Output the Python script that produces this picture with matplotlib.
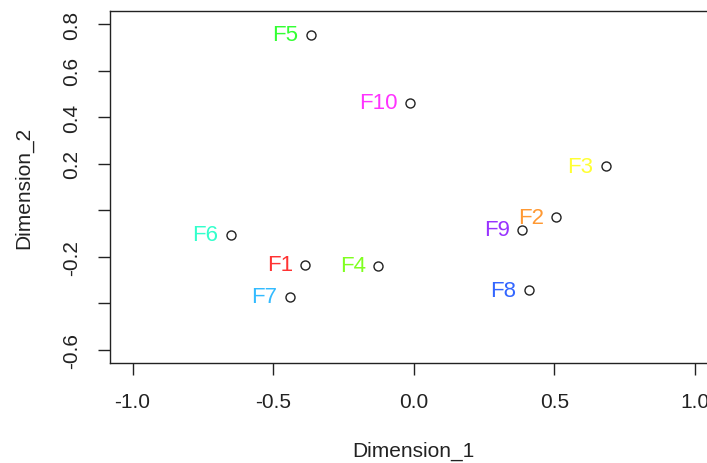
import matplotlib
matplotlib.use("Agg")
import matplotlib.pyplot as plt

plt.rcParams['font.family'] = ['Liberation Sans', 'DejaVu Sans']
plt.rcParams['axes.unicode_minus'] = False

# MDS coordinates
names = ['F1', 'F2', 'F3', 'F4', 'F5', 'F6', 'F7', 'F8', 'F9', 'F10']
dim1 = [-0.385, 0.508, 0.683, -0.126, -0.365, -0.651, -0.440, 0.409, 0.387, -0.013]
dim2 = [-0.233, -0.029, 0.189, -0.239, 0.755, -0.105, -0.371, -0.344, -0.083, 0.461]
cols = ['#FF3333', '#FF9933', '#FFFF33', '#80FF20', '#33FF33',
        '#33FFCC', '#33BBFF', '#3366FF', '#9933FF', '#FF33FF']

xticks = [-1.0, -0.5, 0.0, 0.5, 1.0]
yticks = [0.8, 0.6, 0.4, 0.2, 0.0, -0.2, -0.4, -0.6]
ylabs = ['0.8', '0.6', '0.4', '0.2', '', '-0.2', '', '-0.6']

fig = plt.figure(figsize=(7.07, 4.64), dpi=100)
ax = fig.add_axes([0.1556, 0.2155, 0.859, 0.7586])

ax.plot(dim1, dim2, 'o', mfc='none', mec='#222222', ms=6.5, mew=1.0)
for n, x, y, c in zip(names, dim1, dim2, cols):
    ax.annotate(n, (x, y), xytext=(-9, 0), textcoords='offset points',
                ha='right', va='center', color=c, fontsize=16)

ax.set_xlim(-1.08, 1.08)
ax.set_ylim(-0.656, 0.856)
ax.set_xticks(xticks)
ax.set_xticklabels(['%.1f' % t for t in xticks])
ax.set_yticks(yticks)
ax.set_yticklabels(ylabs, rotation=90, va='center')
ax.tick_params(length=8.6, width=1, color='#222222', pad=12,
               labelsize=15, labelcolor='#222222')
for s in ax.spines.values():
    s.set_color('#222222')
    s.set_linewidth(1)

ax.set_xlabel('Dimension_1', fontsize=15, color='#222222', labelpad=22)
ax.set_ylabel('Dimension_2', fontsize=15, color='#222222', labelpad=21)

fig.savefig('out.png', dpi=100)
